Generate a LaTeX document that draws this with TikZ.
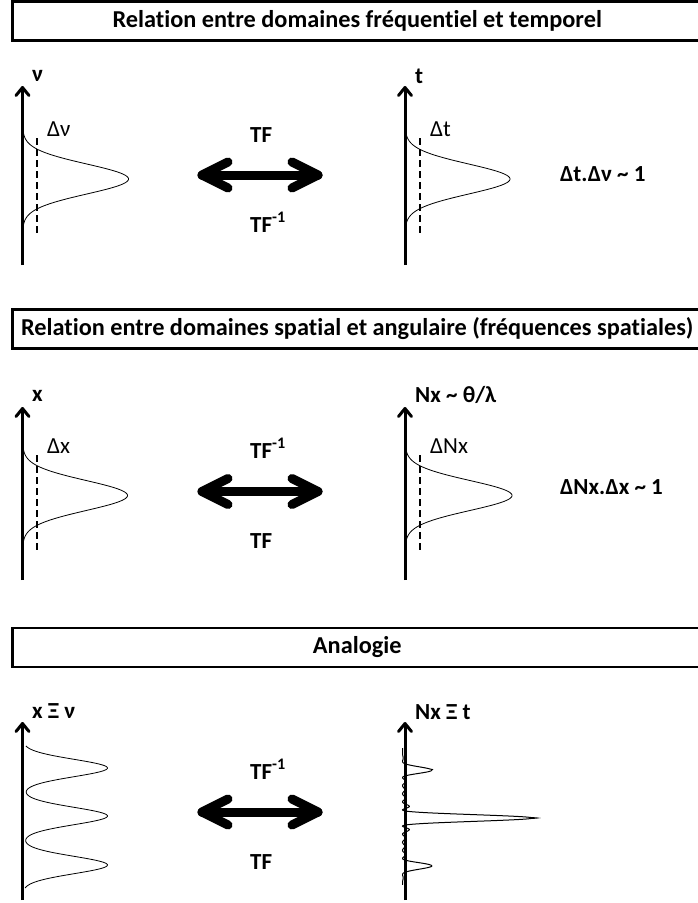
\documentclass[tikz,border=0pt]{standalone}
\usepackage{fontspec}
\setmainfont[Ligatures=NoCommon]{Carlito}
\usetikzlibrary{arrows.meta}
\begin{document}
\begin{tikzpicture}[x=1pt,y=-1pt,
  titlebox/.style={draw, line width=2.5pt, minimum width=689.5pt, minimum height=39pt, inner sep=0pt, font=\fontsize{24.3}{28}\selectfont\bfseries},
  axisline/.style={line width=3pt, -{Straight Barb[round,length=8pt,width=13pt]}},
  curve/.style={line width=0.8pt},
  dashline/.style={line width=1.5pt, dash pattern=on 7pt off 4pt},
  bigarrow/.style={line width=9pt, line cap=round, line join=round},
  axlabel/.style={anchor=west, inner sep=0pt, font=\fontsize{23}{27}\selectfont\bfseries},
  dlabel/.style={anchor=west, inner sep=0pt, font=\fontsize{23}{27}\selectfont},
  tflabel/.style={anchor=base west, inner sep=0pt, font=\fontsize{23}{27}\selectfont\bfseries},
  rel/.style={anchor=west, inner sep=0pt, font=\fontsize{23}{27}\selectfont\bfseries}
]
\useasboundingbox (0,0) rectangle (698,903);
\fill[white] (0,0) rectangle (698,903);

% ---------- Section 1 ----------
\node[titlebox] (t1) at (357.25,21) {Relation entre domaines fréquentiel et temporel};
\coordinate (a1lb) at (22.5,265); \coordinate (a1lt) at (22.5,86);
\coordinate (a1rb) at (405,265); \coordinate (a1rt) at (405,86);
\draw[axisline] (a1lb) -- (a1lt);
\draw[axisline] (a1rb) -- (a1rt);
\node[axlabel] (l1l) at (32,75.5) {ν};
\node[axlabel] (l1r) at (415,76) {t};
\node[dlabel] (d1l) at (47,129) {Δν};
\node[dlabel] (d1r) at (430,129) {Δt};
\draw[dashline] (37,138) -- (37,233);
\draw[dashline] (420,138) -- (420,233);
\draw[curve] plot[domain=-49:49, samples=90, smooth, variable=\t] ({22.5+106*exp(-(\t*\t)/450)}, {179+\t});
\draw[curve] plot[domain=-49:49, samples=90, smooth, variable=\t] ({405+105*exp(-(\t*\t)/450)}, {179+\t});
\coordinate (ar1l) at (202,175); \coordinate (ar1r) at (318,175);
\draw[bigarrow] (ar1l) -- (ar1r);
\draw[bigarrow] ([shift={(26,-13)}]ar1l) -- (ar1l) -- ([shift={(26,13)}]ar1l);
\draw[bigarrow] ([shift={(-26,-13)}]ar1r) -- (ar1r) -- ([shift={(-26,13)}]ar1r);
\node[tflabel] (tf1a) at (250,142) {TF};
\node[tflabel] (tf1b) at (250,232) {TF\textsuperscript{-1}};
\node[rel] (r1) at (560,174) {Δt.Δν \textasciitilde{} 1};

% ---------- Section 2 ----------
\node[titlebox] (t2) at (357.25,329) {Relation entre domaines spatial et angulaire (fréquences spatiales)};
\coordinate (a2lb) at (22.5,580); \coordinate (a2lt) at (22.5,407);
\coordinate (a2rb) at (405,580); \coordinate (a2rt) at (405,407);
\draw[axisline] (a2lb) -- (a2lt);
\draw[axisline] (a2rb) -- (a2rt);
\node[axlabel] (l2l) at (32,395.5) {x};
\node[axlabel] (l2r) at (415,394.5) {Nx \textasciitilde{} θ/λ};
\node[dlabel] (d2l) at (47,446.5) {Δx};
\node[dlabel] (d2r) at (430,446.5) {ΔNx};
\draw[dashline] (37,455) -- (37,550);
\draw[dashline] (420,455) -- (420,550);
\draw[curve] plot[domain=-49:49, samples=90, smooth, variable=\t] ({22.5+105*exp(-(\t*\t)/450)}, {495.5+\t});
\draw[curve] plot[domain=-49:49, samples=90, smooth, variable=\t] ({405+107*exp(-(\t*\t)/450)}, {495.5+\t});
\coordinate (ar2l) at (202,491.5); \coordinate (ar2r) at (318,491.5);
\draw[bigarrow] (ar2l) -- (ar2r);
\draw[bigarrow] ([shift={(26,-13)}]ar2l) -- (ar2l) -- ([shift={(26,13)}]ar2l);
\draw[bigarrow] ([shift={(-26,-13)}]ar2r) -- (ar2r) -- ([shift={(-26,13)}]ar2r);
\node[tflabel] (tf2a) at (250,458) {TF\textsuperscript{-1}};
\node[tflabel] (tf2b) at (250,548) {TF};
\node[rel] (r2) at (560,487) {ΔNx.Δx \textasciitilde{} 1};

% ---------- Section 3 ----------
\node[titlebox] (t3) at (357.25,647.5) {Analogie};
\coordinate (a3lb) at (22.5,900); \coordinate (a3lt) at (22.5,722);
\coordinate (a3rb) at (405,900); \coordinate (a3rt) at (405,722);
\draw[axisline] (a3lb) -- (a3lt);
\draw[axisline] (a3rb) -- (a3rt);
\node[axlabel] (l3l) at (32,711) {x Ξ ν};
\node[axlabel] (l3r) at (415,712) {Nx Ξ t};
\draw[curve] plot[domain=746:888, samples=160, smooth, variable=\t]
  ({22.5+85*(exp(-((\t-768)^2)/151)+exp(-((\t-816)^2)/151)+exp(-((\t-865)^2)/151))}, {\t});
\draw[line width=1pt] plot[domain=-1.443:1.381, samples=300, smooth, variable=\u]
  ({402.5+130*exp(-1.51*\u*\u)*(sin(1080*\u)/(6*sin(180*\u)))^2}, {818+48.5*\u});
\coordinate (ar3l) at (202,812); \coordinate (ar3r) at (318,812);
\draw[bigarrow] (ar3l) -- (ar3r);
\draw[bigarrow] ([shift={(26,-13)}]ar3l) -- (ar3l) -- ([shift={(26,13)}]ar3l);
\draw[bigarrow] ([shift={(-26,-13)}]ar3r) -- (ar3r) -- ([shift={(-26,13)}]ar3r);
\node[tflabel] (tf3a) at (250,779) {TF\textsuperscript{-1}};
\node[tflabel] (tf3b) at (250,869) {TF};
\end{tikzpicture}
\end{document}
